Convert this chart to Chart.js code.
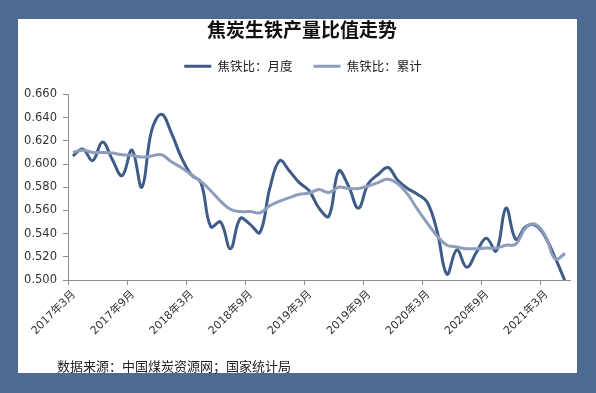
<!DOCTYPE html>
<html>
<head>
<meta charset="utf-8">
<script src="https://cdn.jsdelivr.net/npm/chart.js@4.4.0/dist/chart.umd.min.js"></script>
<style>
  html, body { margin: 0; padding: 0; }
  body { width: 596px; height: 393px; background: #4e6a90; position: relative; overflow: hidden; }
  #panel { position: absolute; left: 18px; top: 19px; width: 559px; height: 354px; background: #ffffff; }
  #c { position: absolute; left: 0; top: 0; }
  #src { position: absolute; left: 57px; top: 356px; font: 13px "Noto Sans CJK SC", sans-serif; color: #222; white-space: nowrap; }
</style>
</head>
<body>
<div id="panel"></div>
<canvas id="c" width="596" height="393"></canvas>
<div id="src">数据来源：中国煤炭资源网；国家统计局</div>
<script>
const titleText = '焦炭生铁产量比值走势';
const seriesNames = ['焦铁比：月度', '焦铁比：累计'];
const months = [
  '2017年3月','2017年4月','2017年5月','2017年6月','2017年7月','2017年8月','2017年9月','2017年10月','2017年11月','2017年12月',
  '2018年1月','2018年2月','2018年3月','2018年4月','2018年5月','2018年6月','2018年7月','2018年8月','2018年9月','2018年10月','2018年11月','2018年12月',
  '2019年1月','2019年2月','2019年3月','2019年4月','2019年5月','2019年6月','2019年7月','2019年8月','2019年9月','2019年10月','2019年11月','2019年12月',
  '2020年1月','2020年2月','2020年3月','2020年4月','2020年5月','2020年6月','2020年7月','2020年8月','2020年9月','2020年10月','2020年11月','2020年12月',
  '2021年1月','2021年2月','2021年3月','2021年4月','2021年5月'
];
const monthly = [
  0.607,0.613,0.603,0.619,0.604,0.590,0.612,0.580,0.629,0.643,
  0.627,0.606,0.591,0.584,0.546,0.550,0.527,0.553,0.548,0.541,0.579,0.603,
  0.594,0.584,0.577,0.562,0.555,0.594,0.581,0.562,0.583,0.591,0.597,0.586,
  0.579,0.574,0.567,0.542,0.505,0.526,0.511,0.524,0.536,0.525,0.562,0.535,
  0.546,0.547,0.537,0.519,0.499
];
const cumulative = [
  0.610,0.612,0.610,0.610,0.6095,0.608,0.6075,0.606,0.607,0.608,
  0.602,0.597,0.591,0.585,0.577,0.568,0.561,0.559,0.559,0.558,0.564,0.568,
  0.571,0.574,0.575,0.578,0.5755,0.580,0.579,0.579,0.581,0.584,0.587,0.583,
  0.574,0.561,0.549,0.538,0.530,0.5285,0.527,0.527,0.5275,0.5275,0.530,0.531,
  0.545,0.548,0.538,0.518,0.523
];
const yTicks = [0.500,0.520,0.540,0.560,0.580,0.600,0.620,0.640,0.660];

const darkColor = '#3e5c87';
const lightColor = '#8e9dbc';
const axisColor = '#8c8c8c';
const numFont = '"DejaVu Sans", "Noto Sans CJK SC", sans-serif';
const cjkFont = '"Noto Sans CJK SC", sans-serif';

// empty layout box that adds a gap between the legend and the plot area,
// and a small horizontal shift of title/legend to match the original centring
const spacerPlugin = {
  id: 'spacer',
  beforeInit(chart) {
    Chart.layouts.addBox(chart, {
      position: 'top', weight: 500, fullSize: true, options: {},
      left: 0, top: 0, right: 0, bottom: 0, width: 0, height: 0,
      isHorizontal() { return true; },
      update(maxWidth) { this.width = maxWidth; this.height = 12; },
      draw() {}
    });
  },
  afterLayout(chart) {
    if (chart.titleBlock) { chart.titleBlock.left += 16; }
    if (chart.legend) { chart.legend.left += 18; }
  }
};

new Chart(document.getElementById('c'), {
  type: 'line',
  plugins: [spacerPlugin],
  data: {
    labels: months,
    datasets: [
      { label: seriesNames[0], data: monthly, borderColor: darkColor, backgroundColor: darkColor,
        borderWidth: 3, pointRadius: 0, tension: 0.4, fill: false, order: 1 },
      { label: seriesNames[1], data: cumulative, borderColor: lightColor, backgroundColor: lightColor,
        borderWidth: 3, pointRadius: 0, tension: 0.4, fill: false, order: 0 }
    ]
  },
  options: {
    responsive: false,
    animation: false,
    devicePixelRatio: 1,
    layout: { padding: { left: 18, right: 26, top: 17, bottom: 48 } },
    plugins: {
      title: {
        display: true, text: titleText, color: '#111',
        font: { family: cjkFont, size: 19, weight: 'bold', lineHeight: 1.0 },
        padding: { top: 3, bottom: 0 }
      },
      legend: {
        display: true,
        labels: {
          color: '#222',
          font: { family: cjkFont, size: 12.5 },
          boxWidth: 27, boxHeight: 3, padding: 21,
          sort: (a, b) => a.datasetIndex - b.datasetIndex,
          generateLabels: (chart) => chart.data.datasets.map((ds, i) => ({
            text: ds.label, fillStyle: ds.borderColor, strokeStyle: ds.borderColor,
            lineWidth: 0, hidden: false, datasetIndex: i, fontColor: '#222'
          }))
        }
      },
      tooltip: { enabled: false }
    },
    scales: {
      x: {
        type: 'category',
        offset: true,
        afterFit: (s) => { s.height = 65; },
        border: { display: true, color: axisColor, width: 1 },
        grid: {
          offset: true, drawOnChartArea: false, drawTicks: true, tickLength: 5,
          color: (ctx) => (ctx.index % 6 === 0 && ctx.index < months.length) ? axisColor : 'rgba(0,0,0,0)'
        },
        ticks: {
          autoSkip: false, maxRotation: 45, minRotation: 45, labelOffset: 1, padding: 3,
          color: '#333', font: { family: numFont, size: 11 },
          callback: function(v, i) { return i % 6 === 0 ? months[i] : ''; }
        }
      },
      y: {
        min: 0.5, max: 0.66,
        afterFit: (s) => { s.width = 50; },
        afterBuildTicks: (s) => { s.ticks = yTicks.map(v => ({ value: v })); },
        border: { display: true, color: axisColor, width: 1 },
        grid: { drawOnChartArea: false, drawTicks: true, tickLength: 5, color: axisColor },
        ticks: {
          color: '#333', padding: 6, font: { family: numFont, size: 11.5 },
          callback: (v) => Number(v).toFixed(3)
        }
      }
    }
  }
});
</script>
</body>
</html>
